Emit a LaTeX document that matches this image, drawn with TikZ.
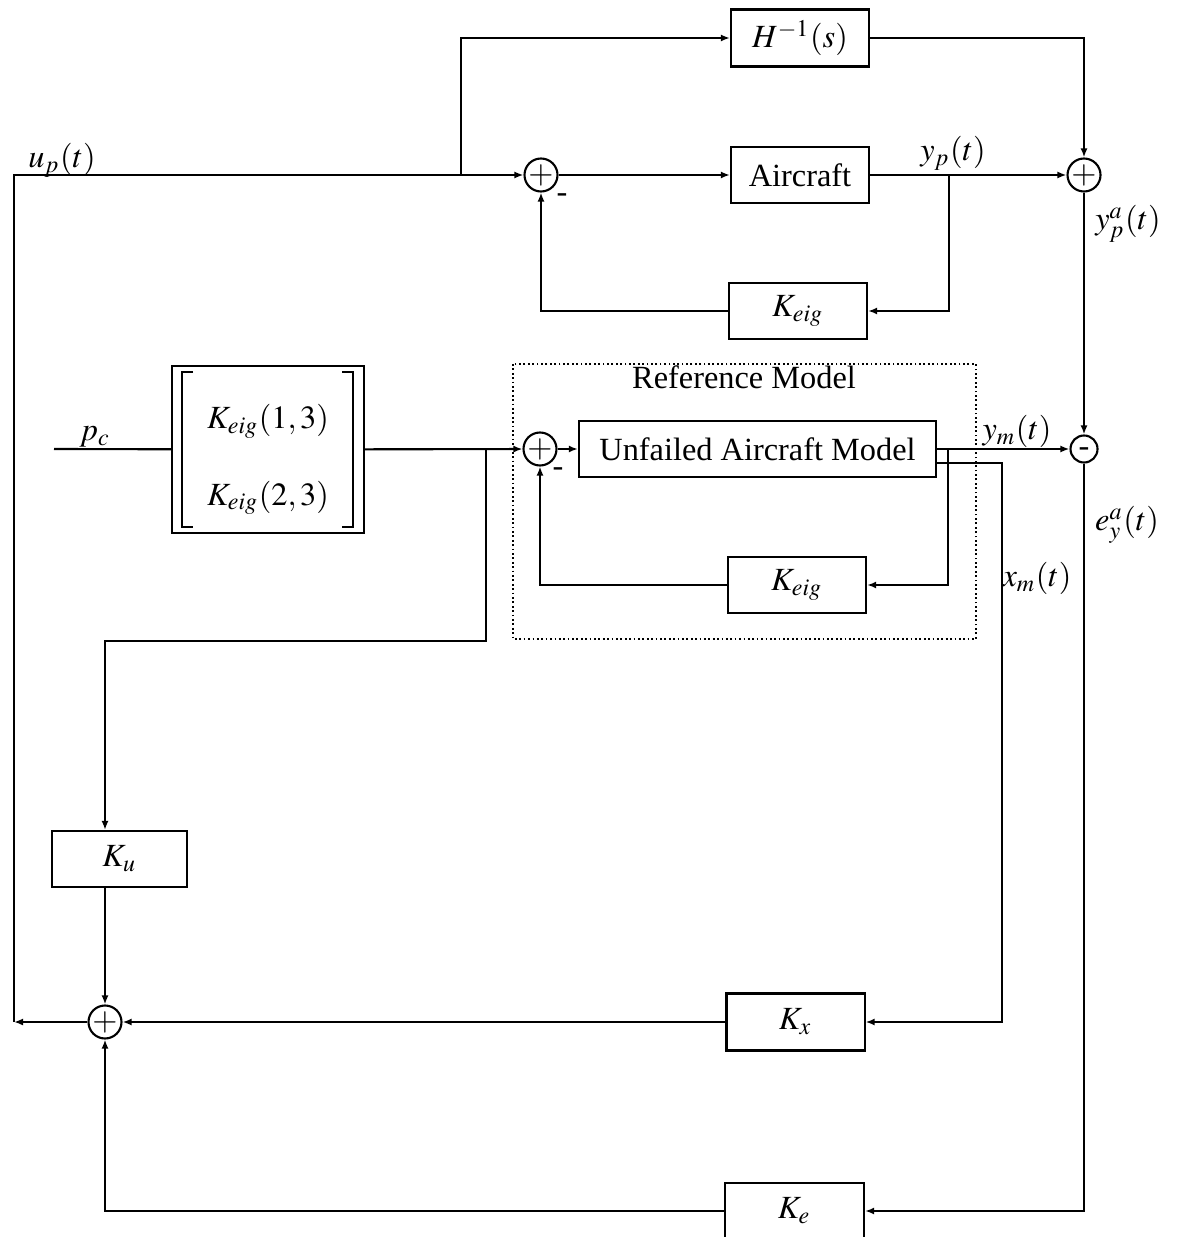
\documentclass[tikz,border=0pt]{standalone}
\usepackage{mathptmx}
\usepackage{fontspec}
\setmainfont{Liberation Serif}
\usetikzlibrary{arrows.meta}
\usetikzlibrary{positioning}

\begin{document}
\begin{tikzpicture}[x=0.01cm,y=-0.01cm,line width=0.6pt,
  font=\fontsize{9.2}{11}\selectfont,
  >={Latex[length=0.9mm,width=0.7mm]},
  blk/.style={draw,rectangle,minimum width=1.38cm,minimum height=0.56cm,inner sep=0pt},
  sumc/.style={draw,circle,minimum size=0.27cm,inner sep=0pt},
  lbl/.style={anchor=base,inner sep=0pt}]
\useasboundingbox (0,0) rectangle (1179,1237);

% blocks
\node[blk,minimum height=0.57cm] (hinv) at (800,38) {$H^{-1}(s)$};
\node[blk] (plant) at (800,175) {Aircraft};
\node[blk] (keigp) at (798,311) {$K_{eig}$};
\node[blk,minimum width=3.57cm] (model) at (757.5,449) {Unfailed Aircraft Model};
\node[blk] (keigm) at (797,585) {$K_{eig}$};
\node[blk,minimum width=1.92cm,minimum height=1.67cm] (gain) at (268,449.5) {};
\node[lbl] (g13) at (268,429) {$K_{eig}(1,3)$};
\node[lbl] (g23) at (268,505) {$K_{eig}(2,3)$};
\node[blk,minimum width=1.35cm] (ku) at (119.5,859) {$K_u$};
\node[blk,minimum height=0.57cm] (kx) at (795.5,1022) {$K_x$};
\node[blk,minimum width=1.39cm] (ke) at (794.5,1211) {$K_e$};

% brackets of the gain matrix
\draw[line width=0.8pt] (193,372) -- (182,372) -- (182,527) -- (193,527);
\draw[line width=0.8pt] (342,372) -- (353,372) -- (353,527) -- (342,527);

% summing junctions
\node[sumc] (s1) at (541,175) {$+$};
\node[sumc] (s2) at (1084,175) {$+$};
\node[sumc,text height=0.45em,text depth=0pt] (s3) at (1084,449) {-};
\node[sumc] (s5) at (540,449) {$+$};
\node[sumc] (s4) at (105,1022) {$+$};
\node[lbl] (m1) at (562,203) {-};
\node[lbl] (m2) at (558,476) {-};

% reference model frame
\draw[dash pattern=on 0.5pt off 0.75pt] (513,364) rectangle (976,639);
\node[lbl] (reftxt) at (744,389) {Reference Model};

% signal labels
\node[lbl] (lup) at (62,168) {$u_p(t)$};
\node[lbl] (lyp) at (953,161) {$y_p(t)$};
\node[lbl] (lypa) at (1128,230) {$y_p^a(t)$};
\node[lbl] (lym) at (1017,440) {$y_m(t)$};
\node[lbl] (ley) at (1127,531) {$e_y^a(t)$};
\node[lbl] (lxm) at (1037,587) {$x_m(t)$};
\node[lbl] (lpc) at (95,441) {$p_c$};

\coordinate (ul) at (14,1022);
\coordinate (bh) at (461,175);
\coordinate (byp) at (949,175);
\coordinate (bym) at (948,449);
\coordinate (xmo) at (936,463);
\coordinate (xmc) at (1002,463);
\coordinate (pin) at (54,449);
\coordinate (bg) at (486,449);
\coordinate (bk) at (486,641);

% plant loop
\draw[->] (s4) -- (ul);
\draw[->] (ul) |- (s1);
\draw[->] (bh) |- (hinv);
\draw[->] (s1) -- (plant);
\draw[->] (plant) -- (s2);
\draw[->] (byp) |- (keigp);
\draw[->] (keigp) -| (s1);
\draw[->] (hinv) -| (s2);
\draw[->] (s2) -- (s3);
\draw[->] (s3) |- (ke);
\draw[->] (ke) -| (s4);

% reference path
\draw (pin) -- (gain);
\draw[->] (gain) -- (s5);
\draw[->] (bg) -- (bk) -| (ku.north -| s4);
\draw[->] (ku.south -| s4) -- (s4);
\draw[->] (kx) -- (s4);
\draw[->] (s5) -- (model);
\draw[->] (model) -- (s3);
\draw[->] (bym) |- (keigm);
\draw[->] (keigm) -| (s5);
\draw[->] (xmo) -- (xmc) |- (kx);

\end{tikzpicture}
\end{document}
